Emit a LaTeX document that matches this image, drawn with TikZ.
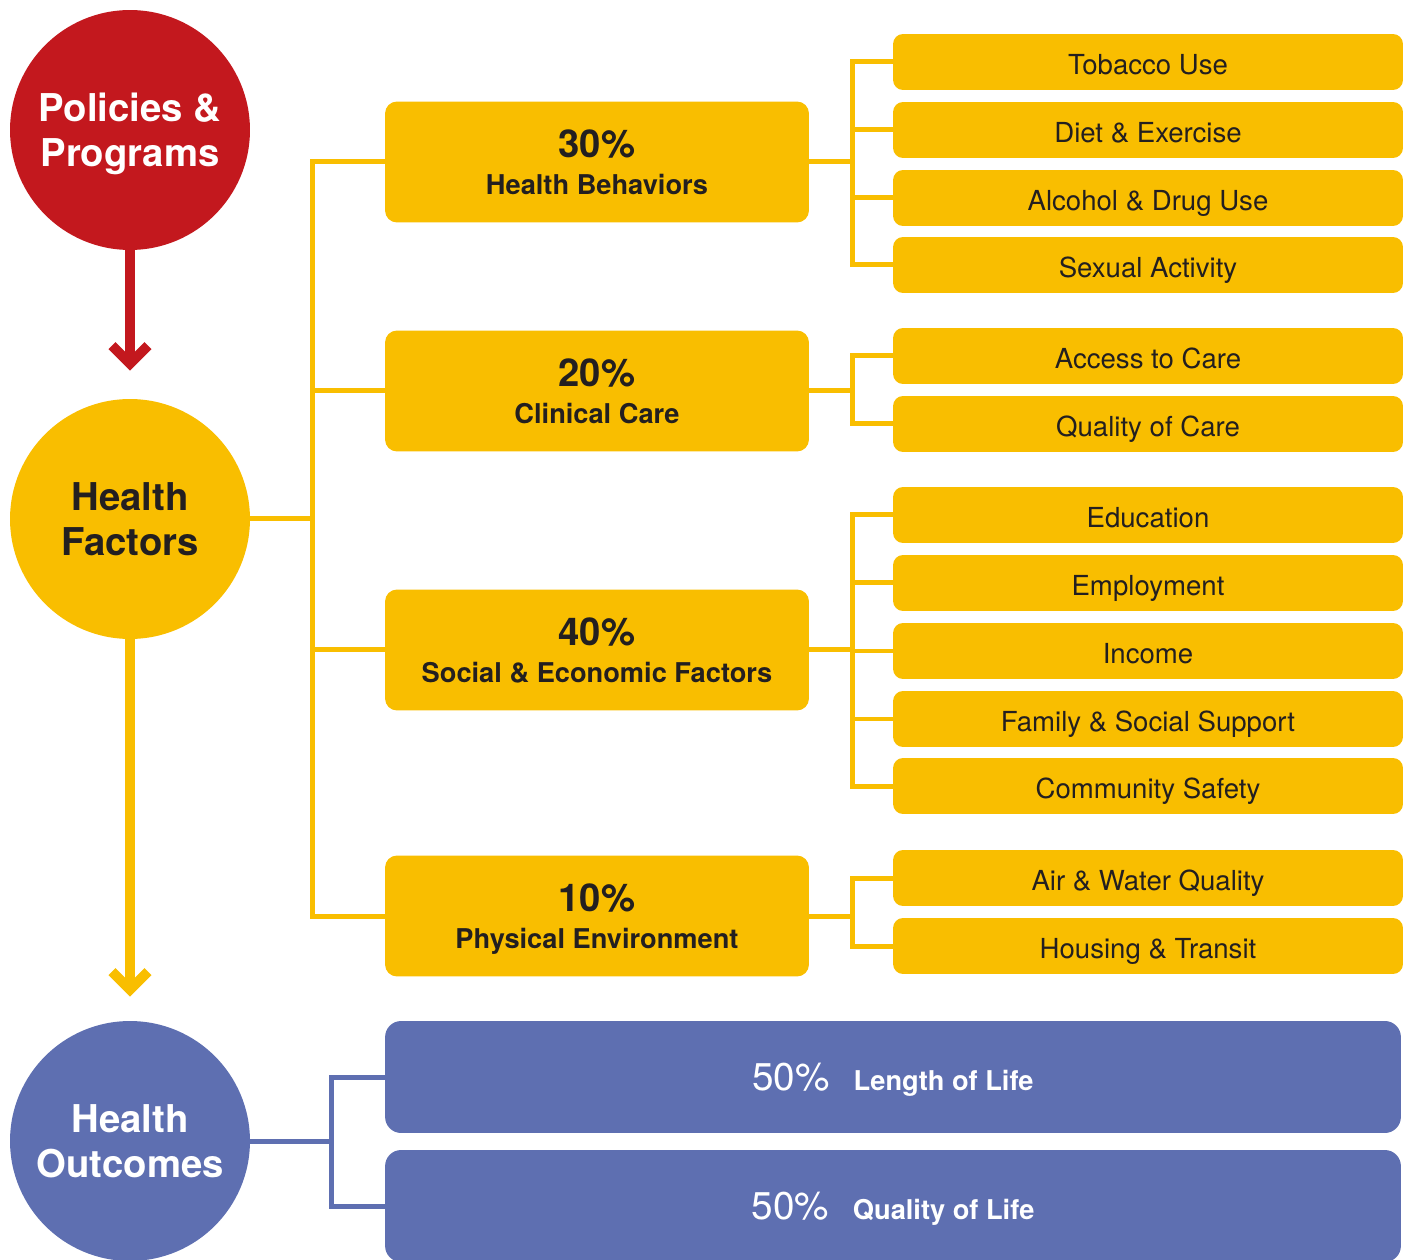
\documentclass[tikz,border=0pt]{standalone}
\usepackage{fontspec}
\setmainfont{TeX Gyre Heros}
\usetikzlibrary{arrows.meta,shapes.geometric}
\definecolor{hred}{HTML}{C3181E}
\definecolor{hyellow}{HTML}{F9BE00}
\definecolor{hblue}{HTML}{5E6FB1}
\definecolor{htext}{HTML}{231F20}

\begin{document}
\begin{tikzpicture}[x=0.02cm,y=-0.02cm]
\tikzstyle{bigcircle} = [circle, minimum size=4.8cm, inner sep=0pt, align=center,
text depth=0pt, font=\fontsize{21.8}{25.8}\selectfont\bfseries]
\tikzstyle{factor} = [rectangle, fill=hyellow, text=htext, rounded corners=0.24cm,
minimum width=8.48cm, minimum height=2.42cm, align=center, text depth=0pt,
font=\fontsize{15.5}{21}\selectfont\bfseries]
\tikzstyle{leaf} = [rectangle, fill=hyellow, text=htext, rounded corners=0.2cm,
minimum width=10.2cm, minimum height=1.12cm, text height=14pt, text depth=0pt,
font=\fontsize{15.7}{18}\selectfont]
\tikzstyle{outcome} = [rectangle, fill=hblue, text=white, rounded corners=0.32cm,
minimum width=20.32cm, minimum height=2.24cm, text height=15.6pt, text depth=0pt]
\tikzstyle{downarrow} = [line width=0.2cm, -{Straight Barb[length=0.36cm,width=0.72cm]}]
\tikzstyle{yline} = [draw=hyellow, line width=0.1cm]
\tikzstyle{bline} = [draw=hblue, line width=0.1cm]
\newcommand{\pct}[2]{{\fontsize{21.8}{22}\selectfont #1}\\#2}
\newcommand{\life}[2]{{\fontsize{22}{24}\selectfont #1}\hspace{0.48cm}{\fontsize{15.5}{18}\selectfont\bfseries #2}}

\useasboundingbox (0,0) rectangle (1411,1260);

% circles
\node [bigcircle, fill=hred, text=white] (policies) at (130,130) {Policies \&\\Programs};
\node [bigcircle, fill=hyellow, text=htext] (factors) at (130,519) {Health\\Factors};
\node [bigcircle, fill=hblue, text=white] (outcomes) at (130,1141) {Health\\Outcomes};

% factor boxes
\node [factor] (behav) at (597,162) {\pct{30\%}{Health Behaviors}};
\node [factor] (clinic) at (597,391) {\pct{20\%}{Clinical Care}};
\node [factor] (social) at (597,650) {\pct{40\%}{Social \& Economic Factors}};
\node [factor] (phys) at (597,916) {\pct{10\%}{Physical Environment}};

% leaves
\node [leaf] (tobacco) at (1148,62) {Tobacco Use};
\node [leaf] (diet) at (1148,130) {Diet \& Exercise};
\node [leaf] (alcohol) at (1148,198) {Alcohol \& Drug Use};
\node [leaf] (sexual) at (1148,265) {Sexual Activity};
\node [leaf] (access) at (1148,356) {Access to Care};
\node [leaf] (quality) at (1148,424) {Quality of Care};
\node [leaf] (educ) at (1148,515) {Education};
\node [leaf] (employ) at (1148,583) {Employment};
\node [leaf] (income) at (1148,651) {Income};
\node [leaf] (family) at (1148,719) {Family \& Social Support};
\node [leaf] (safety) at (1148,786) {Community Safety};
\node [leaf] (air) at (1148,878) {Air \& Water Quality};
\node [leaf] (housing) at (1148,946) {Housing \& Transit};

% outcome boxes
\node [outcome] (length) at (893,1077) {\life{50\%}{Length of Life}};
\node [outcome] (qlife) at (893,1206) {\life{50\%}{Quality of Life}};

% arrows
\draw [downarrow, draw=hred, shorten >=0.56cm] (policies.south) -- (factors.north);
\draw [downarrow, draw=hyellow, shorten >=0.48cm] (factors.south) -- (outcomes.north);

% branches
\foreach \b in {behav,clinic,social,phys}
  \path [yline] (factors.east) -- ++(62,0) |- (\b.west);
\foreach \l in {tobacco,diet,alcohol,sexual}
  \path [yline] (behav.east) -- ++(43,0) |- (\l.west);
\foreach \l in {access,quality}
  \path [yline] (clinic.east) -- ++(43,0) |- (\l.west);
\foreach \l in {educ,employ,income,family,safety}
  \path [yline] (social.east) -- ++(43,0) |- (\l.west);
\foreach \l in {air,housing}
  \path [yline] (phys.east) -- ++(43,0) |- (\l.west);
\foreach \o in {length,qlife}
  \path [bline] (outcomes.east) -- ++(81,0) |- (\o.west);

\end{tikzpicture}
\end{document}
